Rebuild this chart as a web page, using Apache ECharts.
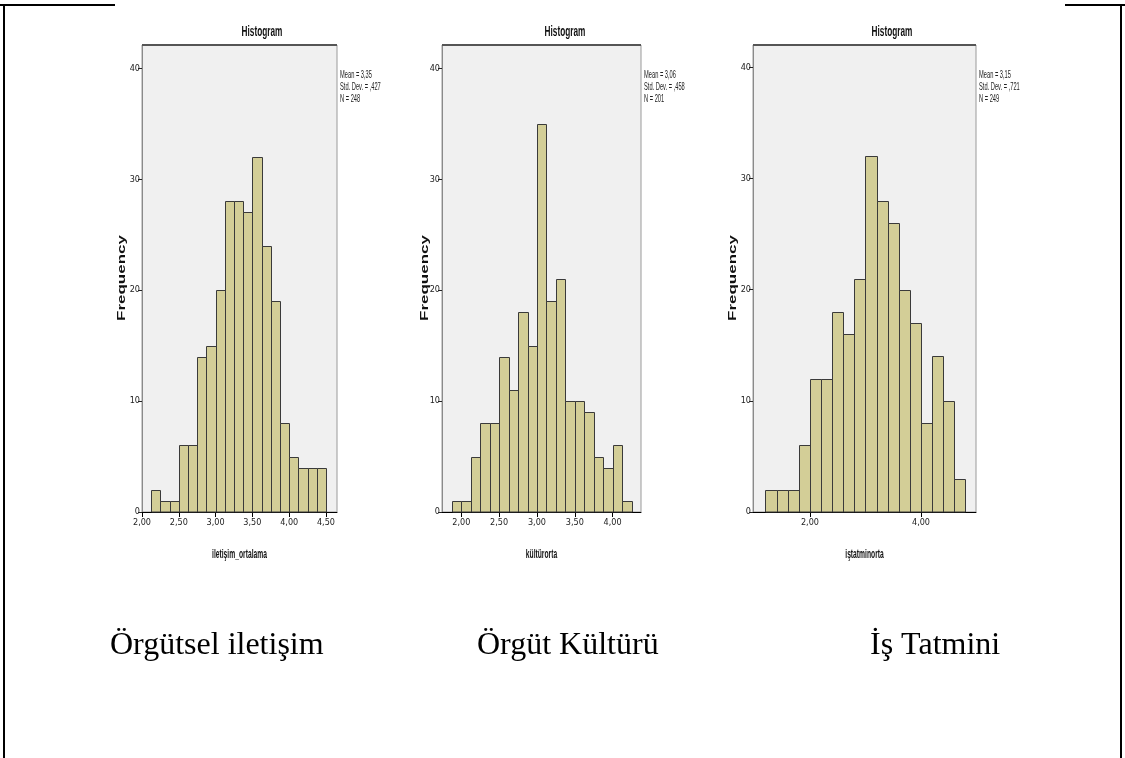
<!DOCTYPE html>
<html>
<head>
<meta charset="utf-8">
<script src="https://cdn.jsdelivr.net/npm/echarts@6/dist/echarts.min.js"></script>
<style>
html,body{margin:0;padding:0;background:#fff;}
#chart{width:1125px;height:758px;}
</style>
</head>
<body>
<div id="chart"></div>
<script>
// ---------- DATA ----------
const panelTitles = ['Histogram', 'Histogram', 'Histogram'];
const xAxisNames = ['iletişim_ortalama', 'kültürorta', 'iştatminorta'];
const captions = ['Örgütsel iletişim', 'Örgüt Kültürü', 'İş Tatmini'];
const yAxisName = 'Frequency';

const binStart1 = 2.125, binWidth1 = 0.125;
const counts1 = [2, 1, 1, 6, 6, 14, 15, 20, 28, 28, 27, 32, 24, 19, 8, 5, 4, 4, 4];
const binStart2 = 1.875, binWidth2 = 0.125;
const counts2 = [1, 1, 5, 8, 8, 14, 11, 18, 15, 35, 19, 21, 10, 10, 9, 5, 4, 6, 1];
const binStart3 = 1.2, binWidth3 = 0.2;
const counts3 = [2, 2, 2, 6, 12, 12, 18, 16, 21, 32, 28, 26, 20, 17, 8, 14, 10, 3];

const xTicks1 = [2.0, 2.5, 3.0, 3.5, 4.0, 4.5];
const xTicks2 = [2.0, 2.5, 3.0, 3.5, 4.0];
const xTicks3 = [2.0, 4.0];
const yTicks = [0, 10, 20, 30, 40];

const means = ['3,35', '3,06', '3,15'];
const stdDevs = [',427', ',458', ',721'];
const ns = ['248', '201', '249'];

// ---------- LAYOUT ----------
const plotTop = 45, plotH = 467;
const panels = [
  {left: 142, width: 195, xmin: 2.0, xmax: 4.65, yMax: 42.1, titleX: 262, freqX: 122, start: binStart1, bw: binWidth1, counts: counts1, ticks: xTicks1},
  {left: 442, width: 199, xmin: 1.745, xmax: 4.375, yMax: 42.1, titleX: 565, freqX: 425, start: binStart2, bw: binWidth2, counts: counts2, ticks: xTicks2},
  {left: 753, width: 223, xmin: 0.975, xmax: 4.99, yMax: 42.0, titleX: 892, freqX: 733, start: binStart3, bw: binWidth3, counts: counts3, ticks: xTicks3}
];
const captionX = [110, 477, 870];
const captionY = 646;

const barFill = '#D3CE97';
const barStroke = '#3a3a3a';
const sansFont = '"Liberation Sans", Arial, sans-serif';
const narrowFont = '"Liberation Sans Narrow", "DejaVu Sans Condensed", "Liberation Sans", sans-serif';
const serifFont = '"Liberation Serif", "Times New Roman", serif';

function fmtComma(v) { return v.toFixed(2).replace('.', ','); }

const grids = [], xAxes = [], yAxes = [], series = [], graphics = [];

panels.forEach((p, i) => {
  grids.push({
    left: p.left, top: plotTop, width: p.width, height: plotH,
    show: true, backgroundColor: '#F0F0F0', borderColor: '#9a9a9a', borderWidth: 1
  });
  xAxes.push({
    type: 'value', gridIndex: i, min: p.xmin, max: p.xmax,
    axisLine: {show: true, onZero: false, lineStyle: {color: '#000', width: 1}},
    axisTick: {show: true, length: 5, customValues: p.ticks, lineStyle: {color: '#000'}},
    axisLabel: {show: true, customValues: p.ticks, formatter: v => fmtComma(v), fontFamily: narrowFont, fontSize: 9, color: '#222', margin: 6},
    splitLine: {show: false}
  });
  yAxes.push({
    type: 'value', gridIndex: i, min: 0, max: p.yMax,
    axisLine: {show: true, lineStyle: {color: '#8a8a8a', width: 1}},
    axisTick: {show: true, length: 4, customValues: yTicks, lineStyle: {color: '#222'}},
    axisLabel: {show: true, customValues: yTicks, formatter: v => String(Math.round(v)), fontFamily: narrowFont, fontSize: 9, color: '#222', margin: 2},
    splitLine: {show: false}
  });
  const data = p.counts.map((c, k) => [p.start + k * p.bw, p.start + (k + 1) * p.bw, c]);
  series.push({
    type: 'custom', xAxisIndex: i, yAxisIndex: i, data: data,
    encode: {x: [0, 1], y: 2},
    renderItem: function (params, api) {
      const a = api.coord([api.value(0), api.value(2)]);
      const b = api.coord([api.value(1), 0]);
      const x0 = Math.round(a[0]) + 0.5, x1 = Math.round(b[0]) + 0.5;
      const y0 = Math.round(a[1]) + 0.5, y1 = Math.round(b[1]);
      return {
        type: 'rect',
        shape: {x: x0, y: y0, width: x1 - x0, height: y1 - y0},
        style: {fill: barFill, stroke: barStroke, lineWidth: 1}
      };
    }
  });
  graphics.push({type: 'line', shape: {x1: p.left, y1: plotTop, x2: p.left + p.width, y2: plotTop}, style: {stroke: '#555', lineWidth: 2}, z: 100});
  graphics.push({type: 'text', x: p.titleX, y: 32, scaleX: 0.55, style: {text: panelTitles[i], font: 'bold 15px ' + sansFont, fill: '#111', align: 'center', verticalAlign: 'middle'}});
  graphics.push({type: 'text', x: p.freqX, y: 278, rotation: Math.PI / 2, scaleY: 0.6, style: {text: yAxisName, font: 'bold 17px ' + sansFont, fill: '#111', align: 'center', verticalAlign: 'middle'}});
  graphics.push({type: 'text', x: p.left + p.width / 2, y: 555, scaleX: 0.56, style: {text: xAxisNames[i], font: 'bold 12px ' + sansFont, fill: '#111', align: 'center', verticalAlign: 'middle'}});
  const sx = p.left + p.width + 3;
  const lines = ['Mean = ' + means[i], 'Std. Dev. = ' + stdDevs[i], 'N = ' + ns[i]];
  lines.forEach((t, k) => {
    graphics.push({type: 'text', x: sx, y: 75 + k * 12, scaleX: 0.52, style: {text: t, font: '11px ' + sansFont, fill: '#222', align: 'left', verticalAlign: 'middle'}});
  });
  graphics.push({type: 'text', x: captionX[i], y: captionY, style: {text: captions[i], font: '32px ' + serifFont, fill: '#000', align: 'left', verticalAlign: 'middle'}});
});

graphics.push({type: 'line', shape: {x1: 4, y1: 5, x2: 4, y2: 758}, style: {stroke: '#000', lineWidth: 2}});
graphics.push({type: 'line', shape: {x1: 1121, y1: 5, x2: 1121, y2: 758}, style: {stroke: '#000', lineWidth: 2}});
graphics.push({type: 'line', shape: {x1: 0, y1: 5, x2: 115, y2: 5}, style: {stroke: '#000', lineWidth: 2}});
graphics.push({type: 'line', shape: {x1: 1065, y1: 5, x2: 1125, y2: 5}, style: {stroke: '#000', lineWidth: 2}});

const chart = echarts.init(document.getElementById('chart'), null, {renderer: 'canvas'});
chart.setOption({
  animation: false,
  backgroundColor: '#fff',
  grid: grids,
  xAxis: xAxes,
  yAxis: yAxes,
  series: series,
  graphic: graphics
});
</script>
</body>
</html>
